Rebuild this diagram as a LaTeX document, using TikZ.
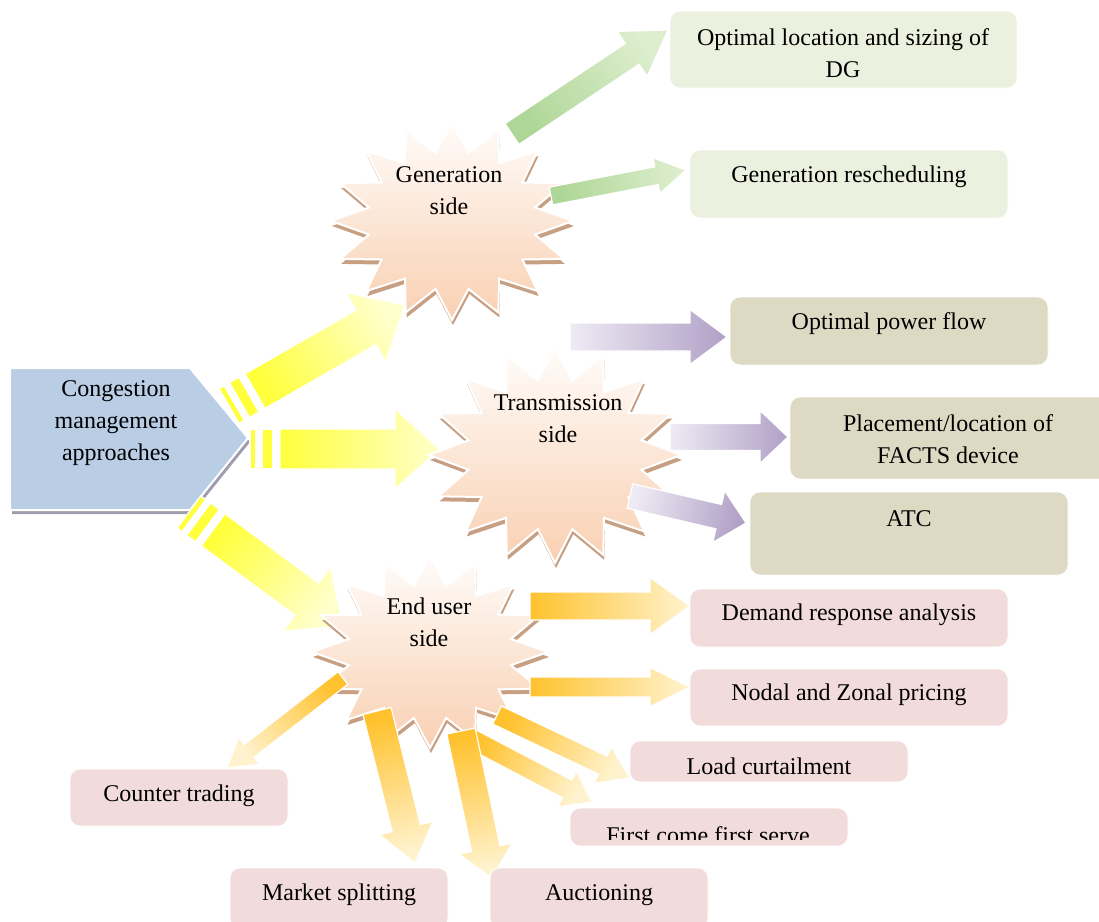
\documentclass[tikz,border=0pt]{standalone}
\usepackage{fontspec}
\setmainfont{Liberation Serif}
\usetikzlibrary{calc}

\definecolor{penblue}{HTML}{B9CDE5}
\definecolor{penshade}{HTML}{A09CB0}
\definecolor{yelA}{HTML}{FFFF3C}
\definecolor{yelB}{HTML}{FFFFCC}
\definecolor{grnA}{HTML}{AED696}
\definecolor{grnB}{HTML}{DCEECD}
\definecolor{purA}{HTML}{EEEBF4}
\definecolor{purB}{HTML}{B1A0C7}
\definecolor{orgA}{HTML}{FFC22E}
\definecolor{orgB}{HTML}{FFF3CF}
\definecolor{starA}{HTML}{FFFCFA}
\definecolor{starB}{HTML}{F9D0B2}
\definecolor{starshade}{HTML}{C79F82}
\definecolor{gbox}{HTML}{EBF1DE}
\definecolor{tbox}{HTML}{DDD9C3}
\definecolor{pbox}{HTML}{F2DCDB}

\tikzset{
  txt/.style={font=\fontsize{12}{16}\selectfont, align=center, inner sep=0pt},
  box/.style={rounded corners=5pt, inner sep=0pt, draw=white, line width=.4pt},
  stripe/.style={fill=yelA, draw=white, line width=.6pt},
}

% tail colour, tip colour, tail, tip, half body, half head, head length
\newcommand{\fatarrow}[7]{%
  \pgfmathanglebetweenpoints{\pgfpointanchor{#3}{center}}{\pgfpointanchor{#4}{center}}%
  \pgfmathsetmacro\arrang{\pgfmathresult-90}%
  \path[draw=white, line width=.6pt, top color=#2, bottom color=#1, shading angle=\arrang]
    ($(#3)!#5!90:(#4)$) -- ($(#4)!#7!(#3)!#5!90:(#4)$) -- ($(#4)!#7!(#3)!#6!90:(#4)$) -- (#4)
    -- ($(#4)!#7!(#3)!#6!-90:(#4)$) -- ($(#4)!#7!(#3)!#5!-90:(#4)$) -- ($(#3)!#5!-90:(#4)$) -- cycle;
}

% tail, tip, name of body tail
\newcommand{\stripedarrow}[3]{%
  \foreach \s/\e in {0pt/3pt, 6pt/11.5pt}
    \path[stripe] ($(#1)!\s!(#2)!10pt!90:(#2)$) -- ($(#1)!\e!(#2)!10pt!90:(#2)$)
      -- ($(#1)!\e!(#2)!10pt!-90:(#2)$) -- ($(#1)!\s!(#2)!10pt!-90:(#2)$) -- cycle;
  \coordinate (#3) at ($(#1)!15pt!(#2)$);
  \fatarrow{yelA}{yelB}{#3}{#2}{10pt}{20pt}{22.5pt}
}

% centre, x radius, y radius
\newcommand{\burst}[3]{%
  \begin{scope}[shift={($(#1)+(1,5)$)}]
    \fill[starshade] (0:#2 and #3) \foreach \k in {1,...,31} {
      -- ({\k*11.25}:{#2*(1-0.3*mod(\k,2))} and {#3*(1-0.3*mod(\k,2))}) } -- cycle;
  \end{scope}
  \begin{scope}[shift={(#1)}]
    \path[draw=white, line width=1pt, top color=starA, bottom color=starB] (0:#2 and #3)
      \foreach \k in {1,...,31} {
      -- ({\k*11.25}:{#2*(1-0.3*mod(\k,2))} and {#3*(1-0.3*mod(\k,2))}) } -- cycle;
  \end{scope}
}

\begin{document}
\begin{tikzpicture}[x=0.5pt, y=-0.5pt]
  \clip (0,0) rectangle (1099,922);

  \path[fill=penshade, shift={(2,4)}] (10,368) -- (190,368) -- (248,438) -- (190,510) -- (10,510) -- cycle;
  \path[fill=penblue, draw=white, line width=1pt] (10,368) -- (190,368) -- (248,438) -- (190,510) -- (10,510) -- cycle;
  \node[txt] (cma) at (116,423) {Congestion\\management\\approaches};

  \coordinate (ya) at (229,406);  \coordinate (yat) at (405,305);
  \coordinate (yb) at (250,449);  \coordinate (ybt) at (440,449);
  \coordinate (yc) at (189,512);  \coordinate (yct) at (343,626);
  \stripedarrow{ya}{yat}{yab}
  \stripedarrow{yb}{ybt}{ybb}
  \stripedarrow{yc}{yct}{ycb}

  \coordinate (gsc) at (452,221);
  \coordinate (tsc) at (555,455);
  \coordinate (esc) at (430,652);
  \burst{gsc}{121}{99}
  \burst{tsc}{126}{108}
  \burst{esc}{118}{96}

  \begin{scope}[every node/.style={txt}]
    \node (gen) at (449,191) {Generation\\side};
    \node (trn) at (558,419) {Transmission\\side};
    \node (eus) at (429,622) {End user\\side};
  \end{scope}

  \coordinate (g1) at (512,134);  \coordinate (g1t) at (668,30);
  \coordinate (g2) at (551,196);  \coordinate (g2t) at (686,170);
  \fatarrow{grnA}{grnB}{g1}{g1t}{6.25pt}{13.5pt}{21.5pt}
  \fatarrow{grnA}{grnB}{g2}{g2t}{4.5pt}{9pt}{15pt}

  \coordinate (p1) at (570,337);  \coordinate (p1t) at (727,337);
  \coordinate (p2) at (670,437);  \coordinate (p2t) at (788,437);
  \coordinate (p3) at (630,496);  \coordinate (p3t) at (746,523);
  \fatarrow{purA}{purB}{p1}{p1t}{7pt}{13.75pt}{18.5pt}
  \fatarrow{purA}{purB}{p2}{p2t}{6.75pt}{13.25pt}{14pt}
  \fatarrow{purA}{purB}{p3}{p3t}{6.25pt}{13.25pt}{14pt}

  \coordinate (o1) at (530,606);  \coordinate (o1t) at (690,606);
  \coordinate (o2) at (530,687);  \coordinate (o2t) at (690,687);
  \coordinate (o3) at (497,715);  \coordinate (o3t) at (630,778);
  \coordinate (o4) at (470,738);  \coordinate (o4t) at (592,802);
  \coordinate (o5) at (461,731);  \coordinate (o5t) at (492,878);
  \coordinate (o6) at (377,711);  \coordinate (o6t) at (415,863);
  \coordinate (o7) at (343,678);  \coordinate (o7t) at (227,768);
  \fatarrow{orgA}{orgB}{o1}{o1t}{7pt}{14.25pt}{20pt}
  \fatarrow{orgA}{orgB}{o2}{o2t}{5pt}{9.75pt}{20pt}
  \fatarrow{orgA}{orgB}{o3}{o3t}{5pt}{10pt}{15pt}
  \fatarrow{orgA}{orgB}{o4}{o4t}{5pt}{10pt}{14pt}
  \fatarrow{orgA}{orgB}{o5}{o5t}{7.25pt}{13.5pt}{15pt}
  \fatarrow{orgA}{orgB}{o6}{o6t}{7.25pt}{13.75pt}{18pt}
  \fatarrow{orgA}{orgB}{o7}{o7t}{4pt}{8.5pt}{14pt}

  \begin{scope}[every node/.style={box}]
    \node[fill=gbox, minimum width=173.5pt, minimum height=38.5pt] (dgb) at (843.5,49.5) {};
    \node[fill=gbox, minimum width=159pt, minimum height=34pt] (grb) at (849,184) {};
    \node[fill=tbox, minimum width=159pt, minimum height=34pt] (opfb) at (889,331) {};
    \node[fill=tbox, minimum width=160pt, minimum height=41pt] (facb) at (950,438) {};
    \node[fill=tbox, minimum width=159pt, minimum height=41.5pt] (atcb) at (909,533.5) {};
    \node[fill=pbox, minimum width=159pt, minimum height=29pt] (drab) at (849,618) {};
    \node[fill=pbox, minimum width=159pt, minimum height=28.5pt] (nzpb) at (849,697.5) {};
    \node[fill=pbox, minimum width=139pt, minimum height=20.5pt] (lcb) at (769,761.5) {};
    \node[fill=pbox, minimum width=139pt, minimum height=19pt] (fcb) at (709,827) {};
    \node[fill=pbox, minimum width=109pt, minimum height=28.5pt] (ctb) at (179,797.5) {};
    \node[fill=pbox, minimum width=109pt, minimum height=30pt] (msb) at (339,898) {};
    \node[fill=pbox, minimum width=109pt, minimum height=30pt] (aucb) at (599,898) {};
  \end{scope}

  \begin{scope}[every node/.style={txt}]
    \node (dg) at (843,53) {Optimal location and sizing of\\DG};
    \node (gr) at (849,177) {Generation rescheduling};
    \node (opf) at (889,324) {Optimal power flow};
    \node (fac) at (948,439) {Placement/location of\\FACTS device};
    \node (atc) at (909,519) {ATC};
    \node (dra) at (849,615) {Demand response analysis};
    \node (nzp) at (849,695) {Nodal and Zonal pricing};
    \node (lc) at (769,766) {Load curtailment};
    \node (ct) at (179,796) {Counter trading};
    \node (ms) at (339,895) {Market splitting};
    \node (auc) at (599,895) {Auctioning};
    \begin{scope}
      \clip (560,800) rectangle (860,839);
      \node (fc) at (708,835) {First come first serve};
    \end{scope}
  \end{scope}
\end{tikzpicture}
\end{document}
